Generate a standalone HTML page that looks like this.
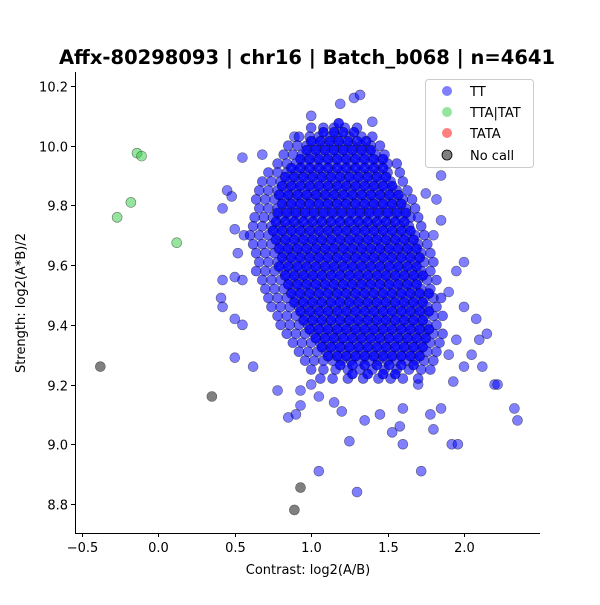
<!DOCTYPE html>
<html><head><meta charset="utf-8"><style>
body{margin:0;background:#fff;font-family:"Liberation Sans","DejaVu Sans",sans-serif}
svg text{font-family:"DejaVu Sans","Liberation Sans",sans-serif}
</style></head><body>
<svg id="chart" width="600" height="600" viewBox="0 0 600 600">
<text x="307" y="64" text-anchor="middle" font-size="19.5" font-weight="bold">Affx-80298093 | chr16 | Batch_b068 | n=4641</text>
<g id="marks"></g>
<g id="axes"></g>
<text x="308" y="574" text-anchor="middle" font-size="13">Contrast: log2(A/B)</text>
<text transform="translate(25,303) rotate(-90)" text-anchor="middle" font-size="13">Strength: log2(A*B)/2</text>
<g>
<rect x="425.5" y="79.5" width="108" height="88" rx="3" fill="#fff" fill-opacity="0.8" stroke="#ccc"/>
<g><circle cx="447" cy="91" r="5" fill="#0000ff" fill-opacity="0.5"/><text x="470" y="96" font-size="13">TT</text></g>
<g><circle cx="447" cy="112" r="5" fill="#2ecc40" fill-opacity="0.5"/><text x="470" y="117" font-size="13">TTA|TAT</text></g>
<g><circle cx="447" cy="133" r="5" fill="#ff0000" fill-opacity="0.5"/><text x="470" y="138" font-size="13">TATA</text></g>
<g><circle cx="447" cy="155" r="5" fill="#808080" stroke="#000" stroke-width="0.8"/><text x="470" y="160" font-size="13">No call</text></g>
</g>
</svg>
<script>
const xTicks=[-0.5,0,0.5,1,1.5,2];
const yTicks=[8.8,9.0,9.2,9.4,9.6,9.8,10.0,10.2];
const coreRowsY=[10.06,10.03,10.00,9.97,9.94,9.91,9.88,9.85,9.82,9.79,9.76,9.73,9.70,9.67,9.64,9.61,9.58,9.55,9.52,9.49,9.46,9.43,9.40,9.37,9.34,9.31,9.28,9.25,9.22];
const coreRowsX=[
[1.00,1.08,1.15,1.22,1.30],
[0.92,0.99,1.05,1.12,1.18,1.25,1.33,1.40],
[0.85,0.91,0.97,1.03,1.09,1.15,1.21,1.27,1.33,1.39,1.45],
[0.82,0.88,0.94,1.00,1.06,1.12,1.18,1.24,1.30,1.36,1.42,1.48],
[0.78,0.84,0.90,0.96,1.02,1.08,1.14,1.20,1.26,1.32,1.38,1.44,1.50,1.56],
[0.72,0.78,0.84,0.90,0.96,1.02,1.08,1.14,1.20,1.26,1.32,1.38,1.44,1.50,1.58],
[0.68,0.74,0.80,0.86,0.92,0.98,1.04,1.10,1.16,1.22,1.28,1.34,1.40,1.46,1.52,1.60],
[0.66,0.72,0.78,0.84,0.90,0.96,1.02,1.08,1.14,1.20,1.26,1.32,1.38,1.44,1.50,1.56,1.63],
[0.64,0.70,0.76,0.82,0.88,0.94,1.00,1.06,1.12,1.18,1.24,1.30,1.36,1.42,1.48,1.54,1.60,1.66],
[0.66,0.72,0.78,0.84,0.90,0.96,1.02,1.08,1.14,1.20,1.26,1.32,1.38,1.44,1.50,1.56,1.62,1.68],
[0.63,0.69,0.75,0.81,0.87,0.93,0.99,1.05,1.11,1.17,1.23,1.29,1.35,1.41,1.47,1.53,1.59,1.65,1.70],
[0.62,0.68,0.74,0.80,0.86,0.92,0.98,1.04,1.10,1.16,1.22,1.28,1.34,1.40,1.46,1.52,1.58,1.64,1.72],
[0.60,0.66,0.72,0.78,0.84,0.90,0.96,1.02,1.08,1.14,1.20,1.26,1.32,1.38,1.44,1.50,1.56,1.62,1.68,1.74],
[0.62,0.68,0.74,0.80,0.86,0.92,0.98,1.04,1.10,1.16,1.22,1.28,1.34,1.40,1.46,1.52,1.58,1.64,1.70,1.76],
[0.64,0.70,0.76,0.82,0.88,0.94,1.00,1.06,1.12,1.18,1.24,1.30,1.36,1.42,1.48,1.54,1.60,1.66,1.72,1.78],
[0.66,0.72,0.78,0.84,0.90,0.96,1.02,1.08,1.14,1.20,1.26,1.32,1.38,1.44,1.50,1.56,1.62,1.68,1.74,1.80],
[0.64,0.70,0.76,0.82,0.88,0.94,1.00,1.06,1.12,1.18,1.24,1.30,1.36,1.42,1.48,1.54,1.60,1.66,1.72,1.78],
[0.68,0.74,0.80,0.86,0.92,0.98,1.04,1.10,1.16,1.22,1.28,1.34,1.40,1.46,1.52,1.58,1.64,1.70,1.76,1.82],
[0.70,0.76,0.82,0.88,0.94,1.00,1.06,1.12,1.18,1.24,1.30,1.36,1.42,1.48,1.54,1.60,1.66,1.72,1.78],
[0.72,0.78,0.84,0.90,0.96,1.02,1.08,1.14,1.20,1.26,1.32,1.38,1.44,1.50,1.56,1.62,1.68,1.74,1.80,1.85],
[0.74,0.80,0.86,0.92,0.98,1.04,1.10,1.16,1.22,1.28,1.34,1.40,1.46,1.52,1.58,1.64,1.70,1.76,1.82],
[0.78,0.84,0.90,0.96,1.02,1.08,1.14,1.20,1.26,1.32,1.38,1.44,1.50,1.56,1.62,1.68,1.74,1.80,1.86],
[0.80,0.86,0.92,0.98,1.04,1.10,1.16,1.22,1.28,1.34,1.40,1.46,1.52,1.58,1.64,1.70,1.76,1.82],
[0.84,0.90,0.96,1.02,1.08,1.14,1.20,1.26,1.32,1.38,1.44,1.50,1.56,1.62,1.68,1.74,1.80,1.86],
[0.88,0.94,1.00,1.06,1.12,1.18,1.24,1.30,1.36,1.42,1.48,1.54,1.60,1.66,1.72,1.78,1.84],
[0.92,0.98,1.04,1.10,1.16,1.22,1.28,1.34,1.40,1.46,1.52,1.58,1.64,1.70,1.76,1.82],
[0.96,1.02,1.08,1.14,1.20,1.26,1.32,1.38,1.44,1.50,1.56,1.62,1.68,1.74,1.80],
[1.00,1.08,1.16,1.24,1.32,1.40,1.48,1.56,1.64,1.72,1.78],
[1.06,1.14,1.24,1.34,1.44,1.52,1.60,1.70]
];
const ttOutX=[0.55,0.45,0.42,0.50,0.48,0.52,0.42,0.41,0.42,0.50,0.55,0.50,0.62,0.50,0.55,0.56,0.78,0.85,0.90,0.93,0.93,1.05,1.20,1.25,1.30,1.35,1.58,1.53,1.60,1.72,1.78,1.80,1.85,1.92,1.96,1.93,2.00,2.05,2.08,2.10,2.12,2.20,2.22,2.15,2.00,2.00,1.90,1.95,1.85,1.82,1.85,1.75,1.80,2.33,2.35,1.28,1.32,1.40,1.19,1.00,0.89,0.68,1.90,1.95,1.70,1.45,1.60,1.15,1.00,1.05];
const ttOutY=[9.96,9.85,9.79,9.72,9.83,9.64,9.55,9.49,9.46,9.42,9.40,9.29,9.26,9.56,9.55,9.70,9.18,9.09,9.10,9.18,9.13,8.91,9.11,9.01,8.84,9.08,9.06,9.04,9.00,8.91,9.10,9.05,9.12,9.00,9.00,9.21,9.26,9.30,9.42,9.35,9.26,9.20,9.20,9.37,9.46,9.61,9.51,9.58,9.90,9.82,9.75,9.84,9.70,9.12,9.08,10.16,10.17,10.08,10.14,10.10,10.03,9.97,9.30,9.35,9.20,9.10,9.12,9.14,9.20,9.16];
const hetX=[-0.14,-0.11,-0.18,-0.27,0.12];
const hetY=[9.975,9.965,9.81,9.76,9.675];
const ncX=[-0.38,0.35,0.93,0.89];
const ncY=[9.26,9.16,8.855,8.78];

const X0=75,X1=540,Y0=72,Y1=533;
function sx(v){return 158.4+v*152.8;}
function sy(v){return 504-(v-8.8)*298.6;}
const NS='http://www.w3.org/2000/svg';
const marks=document.getElementById('marks');
const axes=document.getElementById('axes');
function dot(x,y,fill,op,name){
  const c=document.createElementNS(NS,'circle');
  c.setAttribute('cx',sx(x));c.setAttribute('cy',sy(y));c.setAttribute('r',5);
  c.setAttribute('fill',fill);c.setAttribute('fill-opacity',op);
  c.setAttribute('stroke','#000');c.setAttribute('stroke-opacity',0.5);c.setAttribute('stroke-width',0.6);
  
  
  marks.appendChild(c);
}
for(let i=0;i<ttOutX.length;i++) dot(ttOutX[i],ttOutY[i],'#0000ff',0.5,'tt-point');
for(let r=0;r<coreRowsY.length;r++) for(const x of coreRowsX[r]) dot(x,coreRowsY[r],'#0000ff',0.6,'tt-point');
for(let r=0;r<coreRowsY.length;r++) for(const x of coreRowsX[r]) if(x>coreRowsX[r][0]+0.1 && x<coreRowsX[r][coreRowsX[r].length-1]-0.1) dot(x+0.03,coreRowsY[r]+0.015,'#0000ff',0.8,'tt-point');
for(let i=0;i<hetX.length;i++) dot(hetX[i],hetY[i],'#2ecc40',0.5,'tta-tat-point');
for(let i=0;i<ncX.length;i++){dot(ncX[i],ncY[i],'#808080',1,'no-call-point');}
function line(x1,y1,x2,y2,name){
  const l=document.createElementNS(NS,'line');
  l.setAttribute('x1',x1);l.setAttribute('y1',y1);l.setAttribute('x2',x2);l.setAttribute('y2',y2);
  l.setAttribute('stroke','#000');l.setAttribute('stroke-width',1);
  
  
  axes.appendChild(l);
}
function txt(x,y,s,anchor,name){
  const t=document.createElementNS(NS,'text');
  t.setAttribute('x',x);t.setAttribute('y',y);t.setAttribute('text-anchor',anchor);t.setAttribute('font-size',13);
  t.textContent=s;
  
  
  axes.appendChild(t);
}
line(X0+0.5,Y0,X0+0.5,Y1+0.5,'y-axis-line');
line(X0,Y1+0.5,X1,Y1+0.5,'x-axis-line');
for(const v of xTicks){const p=Math.round(sx(v))+0.5;line(p,Y1,p,Y1+4,'x-tick');txt(p,Y1+19,v.toFixed(1).replace('-','\u2212'),'middle','x-tick-label');}
for(const v of yTicks){const p=Math.round(sy(v))+0.5;line(X0-4,p,X0,p,'y-tick');txt(X0-7,p+5,v.toFixed(1),'end','y-tick-label');}
</script>
</body></html>
